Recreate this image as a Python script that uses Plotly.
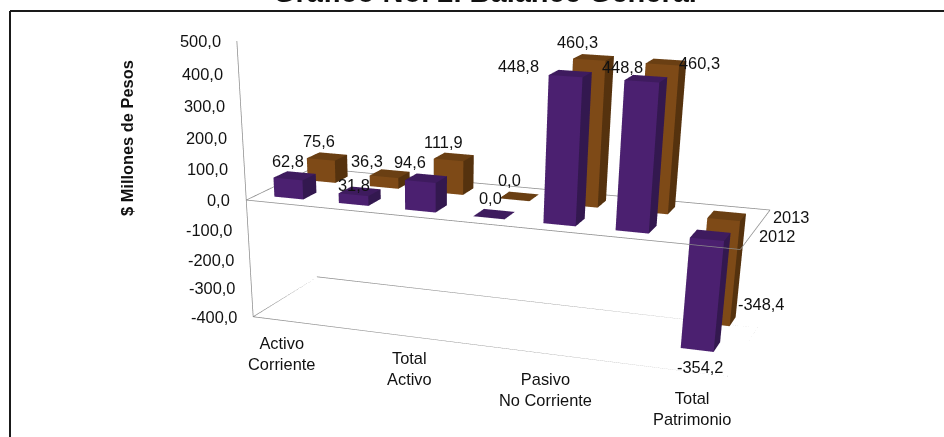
import plotly.graph_objects as go

# ---- data ----
categories = ["Activo Corriente", "", "Total Activo", "", "Pasivo No Corriente", "", "Total Patrimonio"]
category_labels = ["Activo<br>Corriente", "", "Total<br>Activo", "", "Pasivo<br>No Corriente", "", "Total<br>Patrimonio"]
values_2012 = [62.8, 31.8, 94.6, 0.0, 448.8, 448.8, -354.2]
values_2013 = [75.6, 36.3, 111.9, 0.0, 460.3, 460.3, -348.4]
series_names = ["2012", "2013"]
value_ticks = [500, 400, 300, 200, 100, 0, -100, -200, -300, -400]

# ---- styling ----
W, H = 944, 1242
VIEW_H = 437
FONT = "Liberation Sans, Arial, sans-serif"
TXT = "#111111"
GRID = "#8C8C8C"
FS = 16.4
PURPLE = dict(front="#4B2070", side="#33184F", top="#3E1B5E")
BROWN = dict(front="#7E4A17", side="#55320E", top="#6A3F13")
BAR_HALF_X = 0.225
BAR_HALF_Y = 0.2
label_shift_2012 = [(-7, 15), (-6, 6), (-16, 16), (-4, 16), (-52, 8), (-24, 12), (-1, -22)]
label_shift_2013 = [(-8, 15), (-23, 13), (-10, 15), (-10, 16), (-16, 15), (33, -1), (44, 16)]
cat_shift = [(-3, -33), None, (-3, -32), None, (-2, -36), None, (1, -37)]
series_shift = [(29, 3), (28, 2)]


def fmt(v):
    return f"{v:.1f}".replace(".", ",")


def bar(xc, yc, v, col):
    x0, x1 = xc - BAR_HALF_X, xc + BAR_HALF_X
    y0, y1 = yc - BAR_HALF_Y, yc + BAR_HALF_Y
    lo, hi = min(0, v), max(0, v)
    xs = [x0, x1, x1, x0, x0, x1, x1, x0]
    ys = [y0, y0, y1, y1, y0, y0, y1, y1]
    zs = [lo, lo, lo, lo, hi, hi, hi, hi]
    tris = [((0, 1, 5), "front"), ((0, 5, 4), "front"), ((1, 2, 6), "side"), ((1, 6, 5), "side"),
            ((4, 5, 6), "top"), ((4, 6, 7), "top"), ((0, 3, 2), "top"), ((0, 2, 1), "top"),
            ((3, 2, 6), "side"), ((3, 6, 7), "side"), ((0, 3, 7), "side"), ((0, 7, 4), "side")]
    return go.Mesh3d(x=xs, y=ys, z=zs,
                     i=[t[0][0] for t in tris], j=[t[0][1] for t in tris], k=[t[0][2] for t in tris],
                     facecolor=[col[t[1]] for t in tris], flatshading=True, hoverinfo="skip",
                     lighting=dict(ambient=1, diffuse=0, specular=0, fresnel=0, roughness=1),
                     showscale=False)


def frame(xs, ys, zs):
    return go.Scatter3d(x=xs, y=ys, z=zs, mode="lines", line=dict(color=GRID, width=1.5),
                        hoverinfo="skip", showlegend=False)


n = len(categories)
zmin, zmax = value_ticks[-1], value_ticks[0]
fig = go.Figure()
fig.add_trace(frame([0, n, n, 0, 0], [0, 0, 2, 2, 0], [zmin] * 5))
fig.add_trace(frame([0, n, n, 0, 0], [0, 0, 2, 2, 0], [0] * 5))
fig.add_trace(frame([0, 0], [0, 0], [zmax, zmin]))

notes = []


def note(x, y, z, text, dx, dy, xanchor="center"):
    notes.append(dict(x=x, y=y, z=z, text=text, showarrow=False, xshift=dx, yshift=dy,
                      xanchor=xanchor, yanchor="middle", font=dict(family=FONT, size=FS, color=TXT)))


for i in range(n):
    fig.add_trace(bar(i + 0.5, 0.5, values_2012[i], PURPLE))
    fig.add_trace(bar(i + 0.5, 1.5, values_2013[i], BROWN))
    note(i + 0.5, 0.5, values_2012[i], fmt(values_2012[i]), *label_shift_2012[i])
    note(i + 0.5, 1.5, values_2013[i], fmt(values_2013[i]), *label_shift_2013[i])
    if cat_shift[i]:
        note(i + 0.5, 0, zmin, category_labels[i], *cat_shift[i])
for v in value_ticks:
    note(0, 0, v, fmt(v), -14, 0, "right")
note(n, 0.5, 0, series_names[0], *series_shift[0])
note(n, 1.5, 0, series_names[1], *series_shift[1])

fig.update_layout(
    width=W, height=H, autosize=False, margin=dict(l=0, r=0, t=0, b=0),
    paper_bgcolor="white", showlegend=False,
    scene=dict(
        domain=dict(x=[0, 2 * 464 / W], y=[0, 1]),
        xaxis=dict(visible=False, range=[0, n]),
        yaxis=dict(visible=False, range=[0, 2]),
        zaxis=dict(visible=False, range=[zmin, zmax]),
        aspectmode="manual", aspectratio=dict(x=1, y=0.319, z=0.543),
        camera=dict(eye=dict(x=0.937, y=-2.887, z=0.69), center=dict(x=0.521, y=-1.707, z=0),
                    up=dict(x=-0.011, y=0, z=1), projection=dict(type="perspective")),
        annotations=notes,
        dragmode=False,
    ),
    shapes=[
        dict(type="line", xref="paper", yref="paper", x0=10 / W, x1=1, y0=1 - 11 / H, y1=1 - 11 / H,
             line=dict(color="#1A1A1A", width=2)),
        dict(type="line", xref="paper", yref="paper", x0=10 / W, x1=10 / W, y0=1 - 11 / H, y1=1 - VIEW_H / H,
             line=dict(color="#1A1A1A", width=2)),
    ],
    annotations=[
        dict(xref="paper", yref="paper", x=484.5 / W, y=1 + 8 / H, text="<b>Gráfico No. 2. Balance General</b>",
             showarrow=False, xanchor="center", yanchor="middle", font=dict(family=FONT, size=29, color=TXT)),
        dict(xref="paper", yref="paper", x=127 / W, y=1 - 138 / H, text="<b>$ Millones de Pesos</b>", textangle=-90,
             showarrow=False, xanchor="center", yanchor="middle", font=dict(family=FONT, size=FS, color=TXT)),
    ],
)
fig.write_html("out.html", config=dict(displayModeBar=False),
               post_script="document.body.style.margin='0';document.documentElement.style.overflow='hidden';")
